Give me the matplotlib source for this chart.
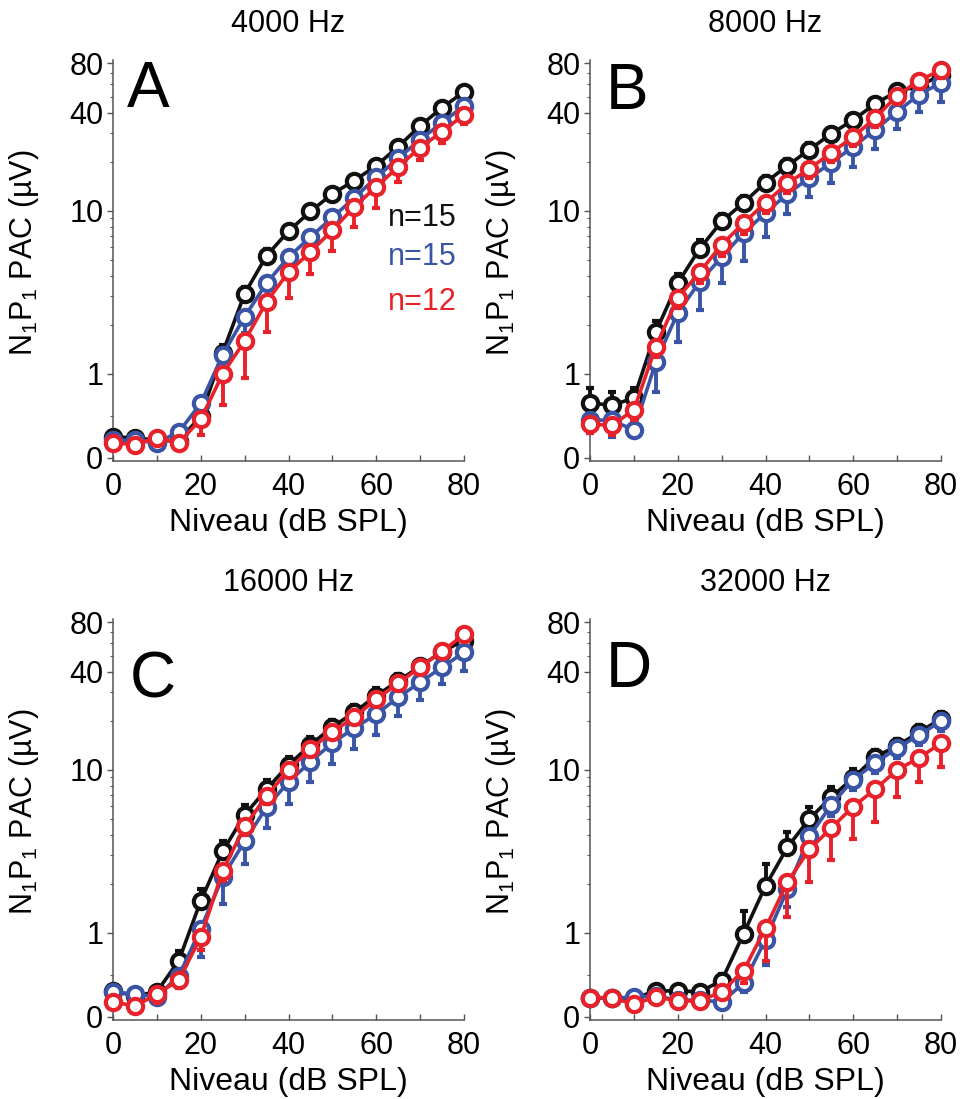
import numpy as np
import matplotlib
matplotlib.use("Agg")
import matplotlib.pyplot as plt

plt.rcParams['font.family'] = ['Liberation Sans', 'DejaVu Sans']
plt.rcParams['mathtext.fontset'] = 'custom'
plt.rcParams['mathtext.rm'] = 'Liberation Sans'
plt.rcParams['mathtext.it'] = 'Liberation Sans'

levels = [0, 5, 10, 15, 20, 25, 30, 35, 40, 45, 50, 55, 60, 65, 70, 75, 80]
titles = ["4000 Hz", "8000 Hz", "16000 Hz", "32000 Hz"]
letters = ["A", "B", "C", "D"]
group_labels = ["n=15", "n=15", "n=12"]

# Panel A (4000 Hz)
a_black = [0.25, 0.24, 0.21, 0.20, 0.50, 1.35, 3.1, 5.3, 7.5, 9.9, 12.7, 15.3, 18.9, 24.7, 33.2, 42.8, 53.7]
a_blue = [0.21, 0.21, 0.18, 0.31, 0.65, 1.31, 2.24, 3.6, 5.2, 6.9, 9.1, 12.0, 16.0, 21.0, 27.3, 34.7, 44.0]
a_red = [0.18, 0.16, 0.24, 0.18, 0.46, 1.0, 1.59, 2.77, 4.2, 5.6, 7.6, 10.6, 14.0, 18.6, 24.4, 30.5, 38.8]
a_black_err = [0.03, 0.03, 0.03, 0.03, 0.05, 0.15, 0.3, 0.5, 0.6, 0.7, 0.9, 1.1, 1.4, 1.8, 2.3, 2.8, 3.5]
a_blue_err = [0.03, 0.03, 0.03, 0.05, 0.15, 0.3, 0.45, 0.7, 0.9, 1.1, 1.4, 1.8, 2.2, 2.8, 3.4, 4.0, 5.0]
a_red_err = [0.04, 0.04, 0.04, 0.04, 0.19, 0.37, 0.64, 0.97, 1.3, 1.5, 1.9, 2.6, 3.6, 3.6, 4.0, 4.5, 5.0]

# Panel B (8000 Hz)
b_black = [0.65, 0.63, 0.71, 1.81, 3.6, 5.85, 8.6, 11.2, 14.9, 18.9, 23.7, 29.7, 36.0, 45.3, 54.0, 58.0, 68.0]
b_blue = [0.45, 0.45, 0.33, 1.18, 2.37, 3.67, 5.2, 7.3, 9.7, 12.7, 15.9, 19.7, 24.7, 31.4, 40.5, 51.5, 61.0]
b_red = [0.40, 0.39, 0.57, 1.47, 2.93, 4.2, 6.2, 8.4, 11.2, 14.7, 18.1, 22.7, 28.4, 37.0, 50.8, 62.8, 73.0]
b_black_err = [0.18, 0.15, 0.12, 0.3, 0.5, 0.8, 1.0, 1.2, 1.5, 1.8, 2.2, 2.6, 3.0, 3.5, 4.0, 4.5, 5.0]
b_blue_err = [0.15, 0.2, 0.08, 0.39, 0.8, 1.2, 1.6, 2.4, 2.8, 3.2, 3.8, 4.8, 6.2, 7.5, 9.0, 11.0, 14.5]
b_red_err = [0.1, 0.12, 0.12, 0.2, 0.4, 0.6, 0.9, 1.2, 1.5, 1.8, 2.2, 2.7, 3.4, 4.3, 5.5, 6.5, 7.5]

# Panel C (16000 Hz)
c_black = [0.31, 0.25, 0.30, 0.67, 1.57, 3.16, 5.3, 7.6, 10.7, 14.2, 18.3, 22.5, 28.5, 35.0, 43.0, 53.0, 62.0]
c_blue = [0.30, 0.27, 0.24, 0.49, 1.06, 2.2, 3.64, 5.9, 8.4, 11.2, 14.6, 18.0, 21.9, 27.8, 34.4, 42.5, 52.4]
c_red = [0.18, 0.13, 0.27, 0.44, 0.95, 2.39, 4.5, 6.9, 10.0, 13.4, 17.1, 21.0, 27.1, 33.9, 42.5, 53.2, 67.5]
c_black_err = [0.03, 0.03, 0.05, 0.12, 0.3, 0.5, 0.8, 1.0, 1.3, 1.6, 2.0, 2.4, 3.0, 3.5, 4.2, 5.0, 6.0]
c_blue_err = [0.03, 0.03, 0.05, 0.08, 0.35, 0.7, 1.0, 1.5, 2.2, 2.8, 3.8, 4.5, 5.5, 6.5, 7.5, 9.0, 12.0]
c_red_err = [0.05, 0.05, 0.1, 0.1, 0.15, 0.3, 0.5, 0.7, 1.0, 1.3, 1.6, 2.0, 2.5, 3.0, 4.0, 5.0, 6.0]

# Panel D (32000 Hz)
d_black = [0.23, 0.22, 0.22, 0.31, 0.31, 0.30, 0.43, 0.99, 1.94, 3.35, 5.0, 6.8, 8.9, 12.0, 14.0, 17.0, 20.5]
d_blue = [0.23, 0.22, 0.24, 0.25, 0.20, 0.20, 0.18, 0.40, 0.92, 1.85, 3.9, 6.1, 8.7, 11.0, 13.6, 16.3, 19.9]
d_red = [0.23, 0.23, 0.15, 0.24, 0.19, 0.19, 0.30, 0.55, 1.07, 2.05, 3.25, 4.4, 5.95, 7.6, 10.0, 11.8, 14.6]
d_black_err = [0.02, 0.02, 0.02, 0.03, 0.04, 0.04, 0.08, 0.37, 0.7, 0.8, 0.9, 1.0, 1.2, 1.3, 1.5, 1.8, 2.0]
d_blue_err = [0.02, 0.02, 0.02, 0.02, 0.02, 0.02, 0.03, 0.1, 0.3, 0.41, 0.6, 0.9, 1.2, 1.5, 1.8, 2.2, 2.5]
d_red_err = [0.03, 0.03, 0.03, 0.03, 0.03, 0.03, 0.05, 0.15, 0.4, 0.8, 1.2, 1.6, 2.2, 2.8, 3.2, 3.4, 4.2]

panels = [
    (a_black, a_blue, a_red, a_black_err, a_blue_err, a_red_err),
    (b_black, b_blue, b_red, b_black_err, b_blue_err, b_red_err),
    (c_black, c_blue, c_red, c_black_err, c_blue_err, c_red_err),
    (d_black, d_blue, d_red, d_black_err, d_blue_err, d_red_err),
]

colors = ["#111111", "#3a55a5", "#e8222b"]
err_up = [True, False, False]   # black up, blue/red down

W, H = 960, 1099
fig = plt.figure(figsize=(W / 100, H / 100), dpi=100)

ax_px = [(113, 464, 60, 461), (590, 941, 60, 461), (113, 464, 619, 1020), (590, 941, 619, 1020)]
letter_top = [60, 62, 650, 640]
letter_left = [127, 606, 130, 606]

yticks_major = [0, 1, 10, 40, 80]
yticks_minor = [0.5, 2, 3, 4, 5, 6, 7, 8, 9, 20, 30, 50, 60, 70]

for i, (l, r, t, b) in enumerate(ax_px):
    ax = fig.add_axes([l / W, 1 - b / H, (r - l) / W, (b - t) / H])
    ax.set_yscale('symlog', linthresh=1, linscale=0.464)
    ax.set_xlim(0, 80)
    ax.set_ylim(-0.036, 84)
    data = panels[i]
    for k in range(3):
        vals = np.array(data[k])
        err = np.array(data[3 + k])
        zeros = np.zeros_like(err)
        yerr = [zeros, err] if err_up[k] else [err, zeros]
        cont = ax.errorbar(levels, vals, yerr=yerr, fmt='-o', color=colors[k],
                           mfc='white', mec=colors[k], ms=11, mew=3.0, lw=2.6,
                           elinewidth=2.8, capsize=3, capthick=2.4, zorder=3 + k)
        for child in cont.get_children():
            child.set_clip_on(False)
    for side in ['top', 'right']:
        ax.spines[side].set_visible(False)
    for side in ['left', 'bottom']:
        ax.spines[side].set_color('#555555')
        ax.spines[side].set_linewidth(1.1)
    ax.set_yticks(yticks_major)
    ax.set_yticklabels([str(v) for v in yticks_major])
    ax.set_yticks(yticks_minor, minor=True)
    ax.set_xticks([0, 20, 40, 60, 80])
    ax.set_xticks([10, 30, 50, 70], minor=True)
    ax.tick_params(axis='y', which='major', direction='out', length=4, width=1, color='#555555',
                   labelsize=22, pad=3)
    ax.tick_params(axis='y', which='minor', direction='out', length=2.5, width=0.8, color='#555555')
    ax.tick_params(axis='x', which='both', direction='in', length=4, width=1, color='#555555',
                   labelsize=22, pad=8)
    ax.set_xlabel("Niveau (dB SPL)", fontsize=23, labelpad=4)
    ax.set_ylabel(r"$\mathregular{N_1P_1}$ PAC (µV)", fontsize=22)
    ax.yaxis.set_label_coords(-0.205, 0.52)
    ax.set_title(titles[i], fontsize=22, pad=20)
    ax.text((letter_left[i] - l) / (r - l), 1 - (letter_top[i] - t) / (b - t), letters[i],
            transform=ax.transAxes, fontsize=46, ha='left', va='top')
    if i == 0:
        ys = [0.607, 0.5075, 0.3965]
        for k in range(3):
            ax.text(0.98, ys[k], group_labels[k], color=colors[k], fontsize=22,
                    ha='right', va='center', transform=ax.transAxes)

fig.savefig("out.png", dpi=100)
